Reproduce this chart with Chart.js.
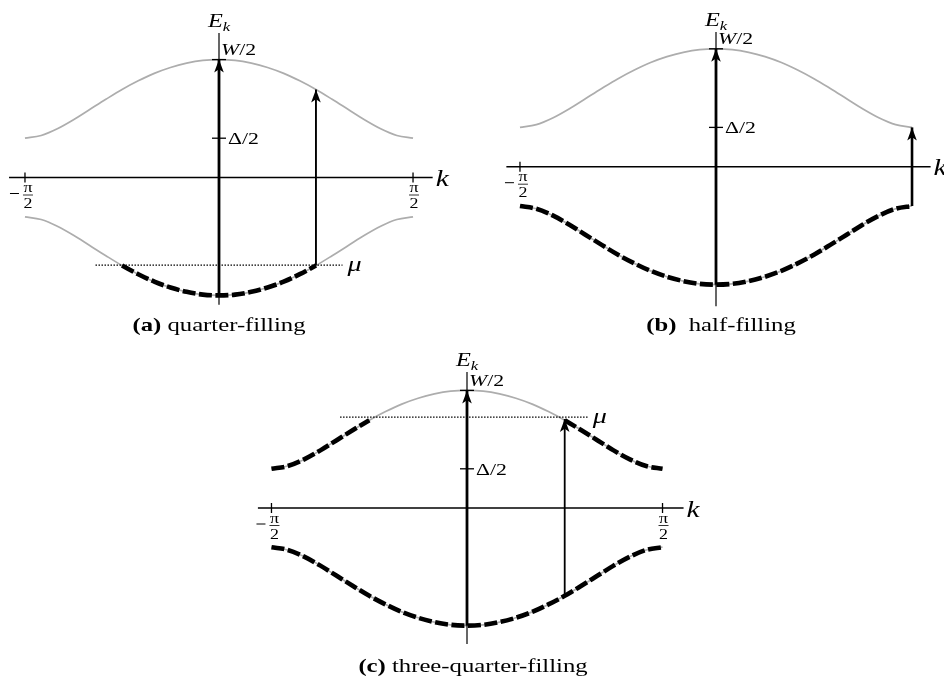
<!DOCTYPE html>
<html lang="en">
<head>
<meta charset="UTF-8">
<title>Band filling</title>
<script src="https://cdn.jsdelivr.net/npm/chart.js"></script>
<style>
  body { margin: 0; background: #fff; width: 944px; height: 684px; position: relative; overflow: hidden; }
  canvas { position: absolute; }
  .caption { position: absolute; width: 300px; text-align: center; white-space: pre;
    font-family: "Liberation Serif", "Times New Roman", serif; font-size: 19px; line-height: 20px; color: #000;
    transform: scaleX(1.3); transform-origin: center; }
</style>
</head>
<body>
<canvas id="panelA" width="470" height="340" style="left:0;top:0"></canvas>
<canvas id="panelB" width="474" height="340" style="left:470px;top:0"></canvas>
<canvas id="panelC" width="470" height="344" style="left:240px;top:340px"></canvas>
<div class="caption" style="left:69px;top:315px"><b>(a)</b> quarter-filling</div>
<div class="caption" style="left:571px;top:315px"><b>(b)</b>  half-filling</div>
<div class="caption" style="left:323px;top:656px"><b>(c)</b> three-quarter-filling</div>

<script>
const HALF_PI = Math.PI / 2;

// k across the zone, radians
const kValues = [-1.571, -1.440, -1.309, -1.178, -1.047, -0.916, -0.785, -0.654, -0.524, -0.393, -0.262, -0.131, 0,
  0.131, 0.262, 0.393, 0.524, 0.654, 0.785, 0.916, 1.047, 1.178, 1.309, 1.440, 1.571];
// band energies in units of Δ/2
const upperBand = [1.00, 1.07, 1.24, 1.47, 1.73, 1.99, 2.24, 2.46, 2.65, 2.80, 2.91, 2.98, 3.00,
  2.98, 2.91, 2.80, 2.65, 2.46, 2.24, 1.99, 1.73, 1.47, 1.24, 1.07, 1.00];
const lowerBand = [-1.00, -1.07, -1.24, -1.47, -1.73, -1.99, -2.24, -2.46, -2.65, -2.80, -2.91, -2.98, -3.00,
  -2.98, -2.91, -2.80, -2.65, -2.46, -2.24, -1.99, -1.73, -1.47, -1.24, -1.07, -1.00];

const gapHalf = 1.0;   // Δ/2
const bandTop = 3.0;   // W/2

// occupied states: [band, k from, k to]
const filledA = [["lower", -0.785, 0.785]];
const filledB = [["lower", -1.571, 1.571]];
const filledC = [["upper", -1.571, -0.785], ["upper", 0.785, 1.571], ["lower", -1.571, 1.571]];

// chemical potential: [mu, k from, k to]
const muA = [-2.23, -1.00, 1.00];
const muC = [2.32, -1.02, 0.97];

// excitations: [k, E from, E to]
const arrowsA = [[0, -3.00, 3.00], [0.785, -2.24, 2.24]];
const arrowsB = [[0, -3.00, 3.00], [1.571, -1.00, 1.00]];
const arrowsC = [[0, -3.00, 3.00], [0.785, -2.24, 2.27]];

// axis extents and ticks
const kAxisA = [-1.70, 1.73], eAxisA = [-3.24, 3.68], kTicksA = [-1.571, 1.571];
const kAxisB = [-1.68, 1.72], eAxisB = [-3.55, 3.43], kTicksB = [-1.571];
const kAxisC = [-1.68, 1.74], eAxisC = [-3.47, 3.47], kTicksC = [-1.571, 1.571];

const STRETCH = 1.28;
const SERIF = "'Liberation Serif', 'Times New Roman', serif";

// draw a run of text pieces side by side, stretched horizontally
function drawRuns(ctx, x, y, runs, align) {
  ctx.save();
  let total = 0;
  runs.forEach(r => { ctx.font = r[1]; total += ctx.measureText(r[0]).width; });
  let cx = align === 'center' ? -total / 2 : 0;
  ctx.translate(x, y);
  ctx.scale(STRETCH, 1);
  ctx.textAlign = 'left';
  ctx.textBaseline = 'alphabetic';
  runs.forEach(r => {
    ctx.font = r[1];
    ctx.fillText(r[0], cx, r[2] || 0);
    cx += ctx.measureText(r[0]).width;
  });
  ctx.restore();
}

function drawFraction(ctx, cx, y0, sign) {
  const f = '14px ' + SERIF;
  drawRuns(ctx, cx, y0 + 14.5, [['π', f]], 'center');
  drawRuns(ctx, cx, y0 + 30.5, [['2', f]], 'center');
  ctx.lineWidth = 0.8;
  ctx.beginPath(); ctx.moveTo(cx - 5, y0 + 17.5); ctx.lineTo(cx + 5, y0 + 17.5); ctx.stroke();
  if (sign) {
    ctx.lineWidth = 1;
    ctx.beginPath(); ctx.moveTo(cx - 18, y0 + 16); ctx.lineTo(cx - 9, y0 + 16); ctx.stroke();
  }
}

function buildPanel(id, box, p) {
  const xMin = -box.ox / box.kUnit * HALF_PI, xMax = (box.w - box.ox) / box.kUnit * HALF_PI;
  const yMax = box.oy / box.eUnit, yMin = -(box.h - box.oy) / box.eUnit;

  const pts = (ys, from, to) => kValues.map((k, i) => ({ x: k, y: ys[i] }))
    .filter(q => q.x >= from - 1e-3 && q.x <= to + 1e-3);
  const datasets = [];
  // later datasets get a lower order so they are painted on top
  const line = (data, opts) => datasets.push(Object.assign({
    data, showLine: true, pointRadius: 0, borderWidth: 1.3, borderColor: '#000',
    tension: 0, clip: false, fill: false, borderCapStyle: 'butt', order: 100 - datasets.length
  }, opts));

  const gray = { borderColor: '#adadad', borderWidth: 1.7, cubicInterpolationMode: 'monotone' };
  line(pts(upperBand, -9, 9), gray);
  line(pts(lowerBand, -9, 9), gray);
  p.filled.forEach(([band, a, b]) => line(pts(band === 'upper' ? upperBand : lowerBand, a, b),
    { borderWidth: 4.6, borderDash: [13, 3.5], cubicInterpolationMode: 'monotone' }));

  line([{ x: p.kAxis[0], y: 0 }, { x: p.kAxis[1], y: 0 }], { borderWidth: 1.5 });
  line([{ x: 0, y: p.eAxis[0] }, { x: 0, y: p.eAxis[1] }], { borderWidth: 1.2 });
  if (p.mu) line([{ x: p.mu[1], y: p.mu[0] }, { x: p.mu[2], y: p.mu[0] }], { borderWidth: 1.3, borderDash: [1.5, 1.5] });
  p.arrows.forEach(([k, e0, e1], i) => line([{ x: k, y: e0 }, { x: k, y: e1 }],
    { borderWidth: p.arrowWidths[i], arrowHead: true }));

  const decorations = {
    id: 'decorations',
    afterDatasetsDraw(chart) {
      const ctx = chart.ctx, sx = chart.scales.x, sy = chart.scales.y;
      const X = v => sx.getPixelForValue(v), Y = v => sy.getPixelForValue(v);
      ctx.save();
      ctx.fillStyle = '#000';
      ctx.strokeStyle = '#000';

      chart.data.datasets.forEach((ds, i) => {
        if (!ds.arrowHead) return;
        const el = chart.getDatasetMeta(i).data;
        const tip = el[el.length - 1];
        const L = 13, W = 4.8;
        ctx.beginPath();
        ctx.moveTo(tip.x, tip.y);
        ctx.lineTo(tip.x - W, tip.y + L);
        ctx.lineTo(tip.x, tip.y + L * 0.75);
        ctx.lineTo(tip.x + W, tip.y + L);
        ctx.closePath();
        ctx.fill();
      });

      const x0 = X(0), y0 = Y(0);
      ctx.lineWidth = 1.3;
      [bandTop, gapHalf].forEach(e => {
        ctx.beginPath(); ctx.moveTo(x0 - 7, Y(e)); ctx.lineTo(x0 + 7, Y(e)); ctx.stroke();
      });
      p.kTicks.forEach(k => {
        ctx.lineWidth = 1.3;
        ctx.beginPath(); ctx.moveTo(X(k), y0 - 5); ctx.lineTo(X(k), y0 + 5); ctx.stroke();
        drawFraction(ctx, X(k) + (k < 0 ? 3 : 1), y0, k < 0);
      });

      const it = sz => 'italic ' + sz + 'px ' + SERIF, rm = sz => sz + 'px ' + SERIF;
      drawRuns(ctx, x0 - 11, Y(p.eAxis[1]) - 6, [['E', it(19)], ['k', it(13), 4]]);
      drawRuns(ctx, x0 + 2, Y(bandTop) - 4.5, [['W', it(17)], ['/2', rm(17)]]);
      drawRuns(ctx, x0 + 9, Y(gapHalf) + 6, [['Δ/2', rm(17)]]);
      drawRuns(ctx, X(p.kAxis[1]) + 3, y0 + 8.5, [['k', it(23)]]);
      if (p.mu) drawRuns(ctx, X(p.mu[2]) + 5, Y(p.mu[0]) + 6, [['μ', it(22)]]);
      ctx.restore();
    }
  };

  return new Chart(document.getElementById(id), {
    type: 'scatter',
    data: { datasets },
    options: {
      responsive: false,
      animation: false,
      events: [],
      layout: { padding: 0 },
      plugins: { legend: { display: false }, tooltip: { enabled: false } },
      scales: {
        x: { type: 'linear', min: xMin, max: xMax, display: false },
        y: { type: 'linear', min: yMin, max: yMax, display: false }
      }
    },
    plugins: [decorations]
  });
}

buildPanel('panelA', { w: 470, h: 340, ox: 219, oy: 177.5, kUnit: 194, eUnit: 39.3 },
  { filled: filledA, mu: muA, arrows: arrowsA, arrowWidths: [2.8, 1.9], kAxis: kAxisA, eAxis: eAxisA, kTicks: kTicksA });
buildPanel('panelB', { w: 474, h: 340, ox: 246, oy: 166.7, kUnit: 196, eUnit: 39.3 },
  { filled: filledB, mu: null, arrows: arrowsB, arrowWidths: [2.8, 2.6], kAxis: kAxisB, eAxis: eAxisB, kTicks: kTicksB });
buildPanel('panelC', { w: 470, h: 344, ox: 227, oy: 168, kUnit: 195.5, eUnit: 39.2 },
  { filled: filledC, mu: muC, arrows: arrowsC, arrowWidths: [2.8, 1.8], kAxis: kAxisC, eAxis: eAxisC, kTicks: kTicksC });
</script>
</body>
</html>
